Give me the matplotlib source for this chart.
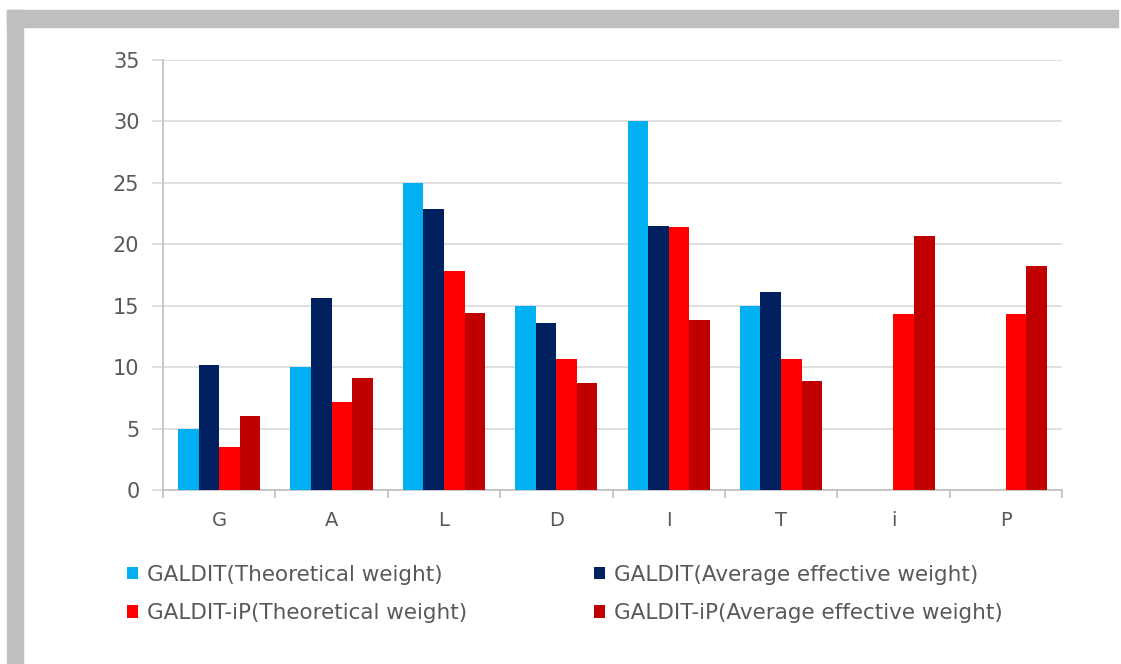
import numpy as np
import matplotlib
matplotlib.use("Agg")
import matplotlib.pyplot as plt
from matplotlib.patches import Rectangle

# Data
categories = ["G", "A", "L", "D", "I", "T", "i", "P"]
galdit_theo = [5, 10, 25, 15, 30, 15, 0, 0]
galdit_avg = [10.2, 15.6, 22.9, 13.6, 21.5, 16.1, 0, 0]
galditip_theo = [3.5, 7.2, 17.8, 10.7, 21.4, 10.7, 14.3, 14.3]
galditip_avg = [6.0, 9.1, 14.4, 8.7, 13.8, 8.9, 20.7, 18.2]
series_names = ["GALDIT(Theoretical weight)", "GALDIT(Average effective weight)",
                "GALDIT-iP(Theoretical weight)", "GALDIT-iP(Average effective weight)"]
colors = ["#00B0F0", "#002060", "#FF0000", "#C00000"]

plt.rcParams['font.family'] = ['DejaVu Sans']

fig = plt.figure(figsize=(11.21, 6.64), dpi=100)

# gray frame (top and left)
fig.patches.append(Rectangle((7/1121, 1 - 27/664), 1111/1121, 17/664,
                             transform=fig.transFigure, color="#BFBFBF", zorder=0))
fig.patches.append(Rectangle((7/1121, 0), 16/1121, 1 - 10/664,
                             transform=fig.transFigure, color="#BFBFBF", zorder=0))

ax = fig.add_axes([163/1121, 1 - 490/664, 899/1121, 430/664])

x = np.arange(len(categories))
w = 0.183
series = [galdit_theo, galdit_avg, galditip_theo, galditip_avg]
handles = []
for i, (vals, c, name) in enumerate(zip(series, colors, series_names)):
    b = ax.bar(x + (i - 1.5) * w, vals, w, color=c, label=name, zorder=3)
    handles.append(b)

ax.set_xlim(-0.5, len(categories) - 0.5)
ax.set_ylim(0, 35)
ax.set_yticks(range(0, 36, 5))
ax.yaxis.grid(True, color="#D9D9D9", lw=1.2, zorder=0)
ax.set_xticks(x)
ax.set_xticklabels(categories)
ax.set_xticks(np.arange(-0.5, len(categories)), minor=True)
ax.tick_params(axis="x", which="major", length=0, pad=15, labelsize=14, labelcolor="#595959")
ax.tick_params(axis="x", which="minor", length=6, color="#BFBFBF", width=1.2)
ax.tick_params(axis="y", length=8, color="#D9D9D9", width=1.2, pad=9,
               labelsize=15, labelcolor="#595959")

for s in ["top", "right"]:
    ax.spines[s].set_visible(False)
for s in ["left", "bottom"]:
    ax.spines[s].set_color("#BFBFBF")
    ax.spines[s].set_linewidth(1.2)

# two legend columns placed separately
leg_kw = dict(loc="center left", frameon=False, fontsize=15.5, labelcolor="#595959",
              handlelength=0.5, handleheight=0.5, handletextpad=0.45,
              labelspacing=0.85, borderpad=0, borderaxespad=0)
fig.legend([handles[0], handles[2]], [series_names[0], series_names[2]],
           bbox_to_anchor=(127/1121, 1 - 594/664), **leg_kw)
fig.legend([handles[1], handles[3]], [series_names[1], series_names[3]],
           bbox_to_anchor=(594/1121, 1 - 594/664), **leg_kw)

fig.savefig("out.png", dpi=100)
